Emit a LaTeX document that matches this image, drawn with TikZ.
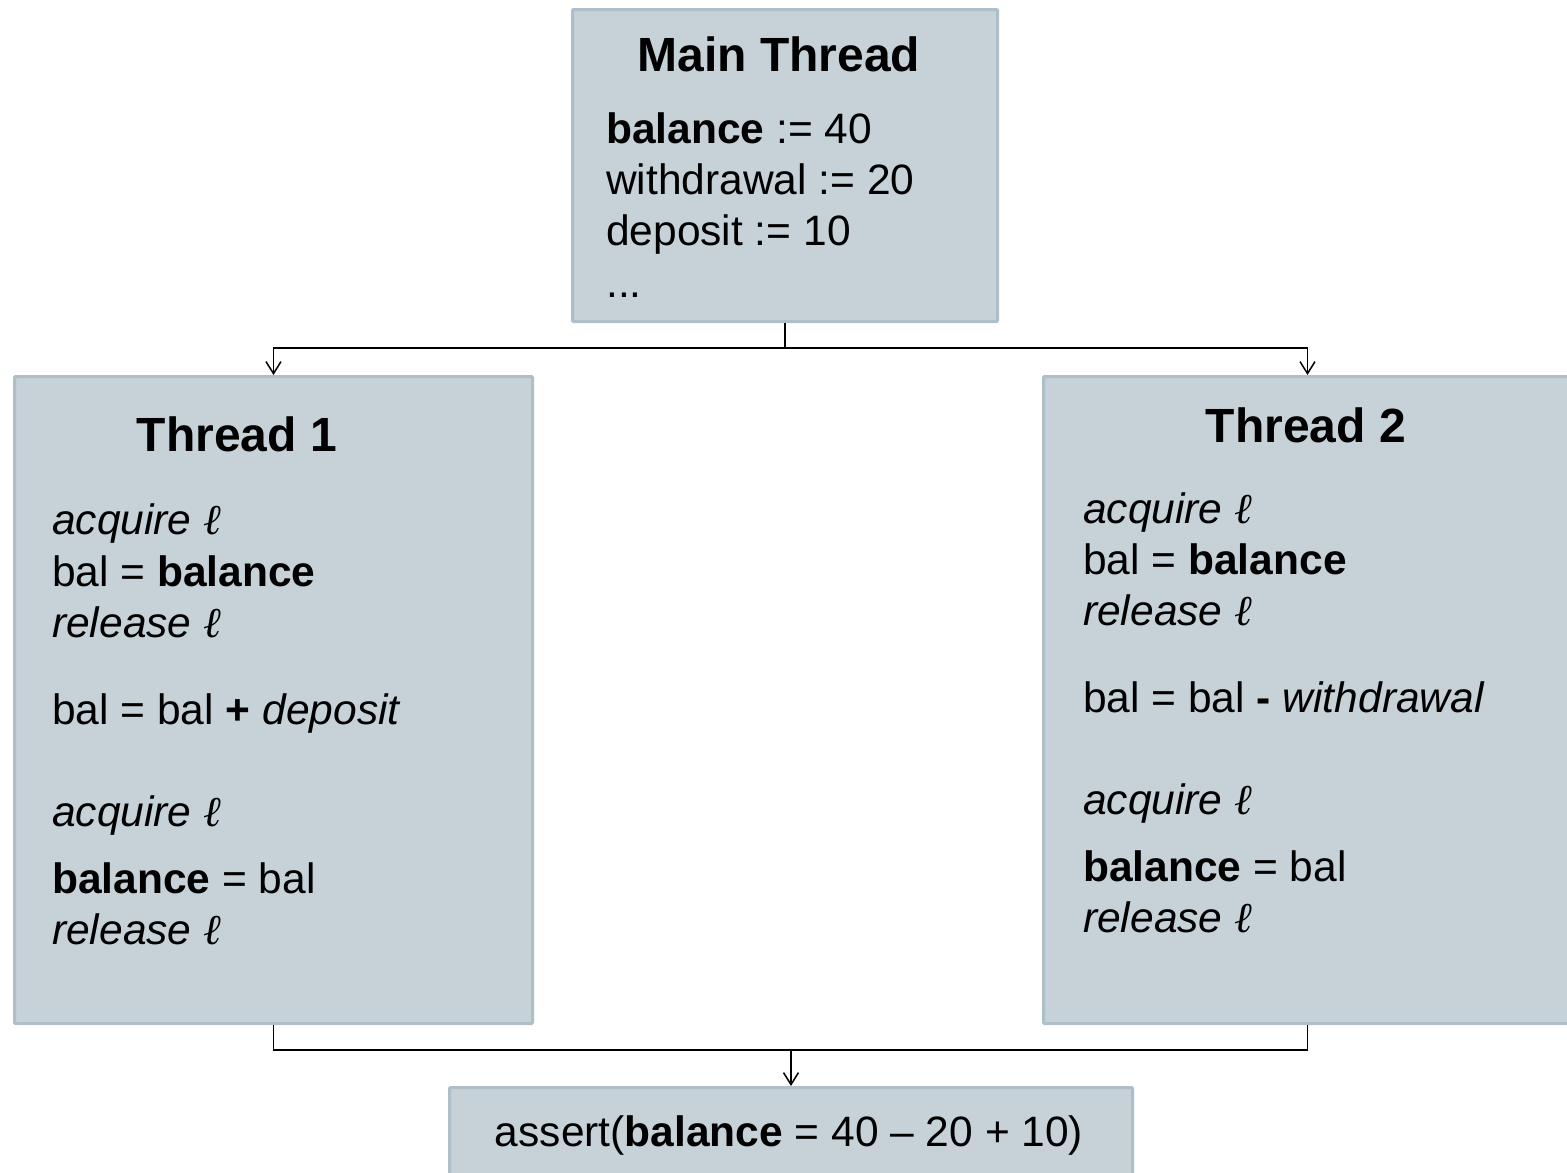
\documentclass[tikz,border=0pt]{standalone}
\usepackage{fontspec}
\setmainfont{Liberation Sans}
\newfontfamily\ellfont{Liberation Serif}
\usetikzlibrary{arrows.meta}
\definecolor{boxfill}{RGB}{198,209,216}
\definecolor{boxline}{RGB}{174,191,202}
\tikzset{
  box/.style={draw=boxline, fill=boxfill, line width=3pt, anchor=north west, inner sep=0pt, rounded corners=1pt},
  ttl/.style={font=\fontsize{48}{50}\selectfont\bfseries, anchor=base, inner sep=0pt},
  txt/.style={font=\fontsize{42.5}{50}\selectfont, anchor=base west, inner sep=0pt},
  conn/.style={line width=1.8pt, black},
  arr/.style={conn, -{Straight Barb[length=12pt,width=15pt,line width=1.5pt]}}
}
\newcommand{\lk}{{\ellfont\itshape ℓ}}
\begin{document}
\begin{tikzpicture}[x=1pt,y=-1pt]
\useasboundingbox (0,0) rectangle (1567,1173);
\clip (0,0) rectangle (1567,1173);
% boxes
\node[box, minimum width=425pt, minimum height=312pt] (main) at (571,8) {};
\node[box, minimum width=518pt, minimum height=647pt] (t1) at (13,375) {};
\node[box, minimum width=528pt, minimum height=647pt] (t2) at (1042,375) {};
\node[box, minimum width=683pt, minimum height=100pt] (as) at (448,1086) {};
% main text
\node[ttl] (mt) at (779,71) {Main Thread};
\node[txt] (m1) at (606,143) {\textbf{balance} := 40};
\node[txt] (m2) at (606,194) {withdrawal := 20};
\node[txt] (m3) at (606,245) {deposit := 10};
\node[txt] (m4) at (606,297) {...};
% thread 1
\node[ttl] (t1t) at (237,451) {Thread 1};
\node[txt] (a1) at (52,534) {\itshape acquire \lk};
\node[txt] (a2) at (52,586) {bal = \textbf{balance}};
\node[txt] (a3) at (52,637) {\itshape release \lk};
\node[txt] (a4) at (52,724) {bal = bal \textbf{+} \textit{deposit}};
\node[txt] (a5) at (52,826) {\itshape acquire \lk};
\node[txt] (a6) at (52,893) {\textbf{balance} = bal};
\node[txt] (a7) at (52,944) {\itshape release \lk};
% thread 2
\node[ttl] (t2t) at (1306,442) {Thread 2};
\node[txt] (b1) at (1083,523) {\itshape acquire \lk};
\node[txt] (b2) at (1083,574) {bal = \textbf{balance}};
\node[txt] (b3) at (1083,625) {\itshape release \lk};
\node[txt] (b4) at (1083,712) {bal = bal \textbf{-} \textit{withdrawal}};
\node[txt] (b5) at (1083,814) {\itshape acquire \lk};
\node[txt] (b6) at (1083,881) {\textbf{balance} = bal};
\node[txt] (b7) at (1083,932) {\itshape release \lk};
% assert
\node[txt, anchor=base] (at) at (789,1146) {assert(\textbf{balance} = 40 – 20 + 10)};
% connectors
\draw[conn] (main.south) -- ++(0,25) coordinate (split);
\draw[arr] (split) -| (t1.north);
\draw[arr] (split) -| (t2.north);
\coordinate (join) at (as.north |- 0,1050);
\draw[conn] (t1.south) |- (join);
\draw[conn] (t2.south) |- (join);
\draw[arr] (join) -- (as.north);
\end{tikzpicture}
\end{document}
